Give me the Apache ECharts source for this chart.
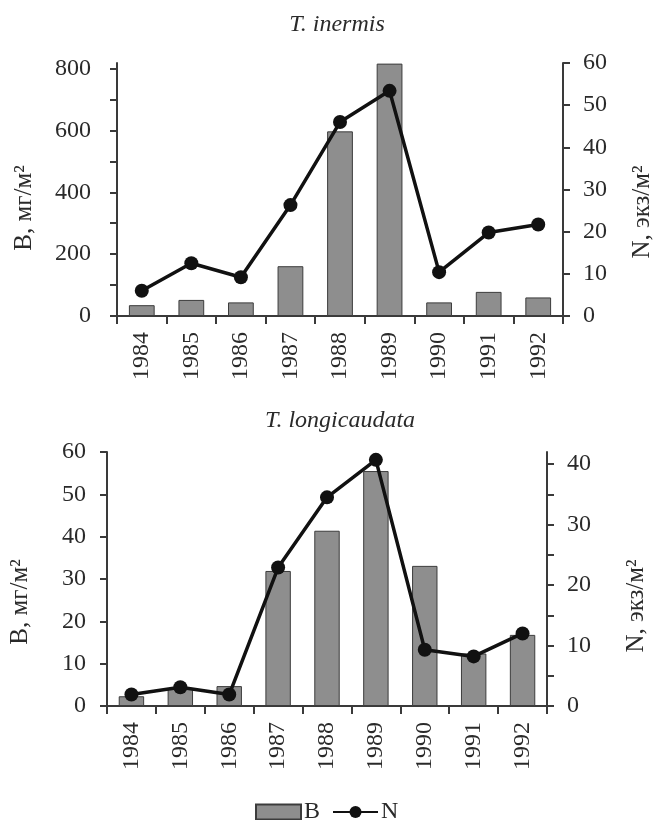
<!DOCTYPE html>
<html>
<head>
<meta charset="utf-8">
<script src="https://cdn.jsdelivr.net/npm/echarts@6/dist/echarts.min.js"></script>
<style>
  html, body { margin: 0; padding: 0; background: #fff; }
  #chart { width: 656px; height: 820px; }
</style>
</head>
<body>
<div id="chart"></div>
<script>
// Years of observation
const years = ['1984', '1985', '1986', '1987', '1988', '1989', '1990', '1991', '1992'];

// T. inermis: biomass B (mg/m2) and abundance N (ind./m2)
const inermisB = [35, 52, 44, 161, 597, 816, 44, 78, 60];
const inermisN = [6.0, 12.5, 9.2, 26.3, 46.0, 53.4, 10.4, 19.8, 21.7];

// T. longicaudata: biomass B (mg/m2) and abundance N (ind./m2)
const longiB = [2.3, 4.1, 4.7, 31.9, 41.4, 55.5, 33.1, 12.4, 16.8];
const longiN = [1.9, 3.1, 1.9, 22.9, 34.5, 40.7, 9.3, 8.2, 12.0];

// Tick positions and labelled ticks for each value axis
const inermisBTicks = [0, 100, 200, 300, 400, 500, 600, 700, 800];
const inermisBLabels = [0, 200, 400, 600, 800];
const inermisNTicks = [0, 10, 20, 30, 40, 50, 60];
const longiBTicks = [0, 10, 20, 30, 40, 50, 60];
const longiNTicks = [0, 5, 10, 15, 20, 25, 30, 35, 40];
const longiNLabels = [0, 10, 20, 30, 40];

// Axis titles
const nameB = 'B, мг/м²';
const nameN = 'N, экз/м²';

const FONT = '"Liberation Serif", "DejaVu Serif", serif';
const TEXT = '#2a2a2a';
const AXIS = '#3a3a3a';

function valueAxis(gridIndex, pos, max, ticks, labels, labelMargin) {
  return {
    type: 'value',
    gridIndex: gridIndex,
    position: pos,
    min: 0,
    max: max,
    splitLine: { show: false },
    axisLine: { show: true, lineStyle: { color: AXIS, width: 2 } },
    axisTick: { show: true, length: 7, customValues: ticks, lineStyle: { color: AXIS, width: 2 } },
    axisLabel: {
      customValues: labels,
      margin: labelMargin,
      fontFamily: FONT, fontSize: 24, color: TEXT
    }
  };
}

function catAxis(gridIndex) {
  return {
    type: 'category',
    gridIndex: gridIndex,
    data: years,
    boundaryGap: true,
    axisLine: { lineStyle: { color: AXIS, width: 2 } },
    axisTick: { show: true, length: 8, lineStyle: { color: AXIS, width: 2 } },
    axisLabel: {
      interval: 0, rotate: 90, margin: 16,
      fontFamily: FONT, fontSize: 24, color: TEXT
    }
  };
}

// Vertical axis title, read from bottom to top
function axisTitle(text, x, y) {
  return {
    type: 'text',
    x: x, y: y,
    rotation: Math.PI / 2,
    style: {
      text: text,
      font: '25px ' + FONT,
      fill: TEXT,
      align: 'center',
      verticalAlign: 'middle'
    }
  };
}

const barStyle = { color: '#8e8e8e', borderColor: '#3c3c3c', borderWidth: 1 };
const lineStyle = { color: '#111111', width: 3.5 };

const option = {
  animation: false,
  backgroundColor: '#ffffff',
  title: [
    {
      text: 'T. inermis', left: 332, top: 8, textAlign: 'center',
      textStyle: { fontFamily: FONT, fontStyle: 'italic', fontWeight: 'normal', fontSize: 24, color: TEXT }
    },
    {
      text: 'T. longicaudata', left: 335, top: 404, textAlign: 'center',
      textStyle: { fontFamily: FONT, fontStyle: 'italic', fontWeight: 'normal', fontSize: 24, color: TEXT }
    }
  ],
  legend: {
    top: 795, left: 250,
    itemWidth: 45, itemHeight: 15, itemGap: 12,
    textStyle: { fontFamily: FONT, fontSize: 24, color: TEXT, padding: [0, 0, 0, -2] },
    data: [
      { name: 'B', icon: 'rect' },
      { name: 'N' }
    ]
  },
  graphic: [
    axisTitle(nameB, 24, 208),
    axisTitle(nameN, 642, 212),
    axisTitle(nameB, 20, 602),
    axisTitle(nameN, 636, 606)
  ],
  grid: [
    { left: 117, right: 93, top: 63, height: 253 },
    { left: 107, right: 109, top: 452, height: 254 }
  ],
  xAxis: [catAxis(0), catAxis(1)],
  yAxis: [
    valueAxis(0, 'left', 818, inermisBTicks, inermisBLabels, 26),
    valueAxis(0, 'right', 60, inermisNTicks, inermisNTicks, 20),
    valueAxis(1, 'left', 60, longiBTicks, longiBTicks, 21),
    valueAxis(1, 'right', 42, longiNTicks, longiNLabels, 20)
  ],
  series: [
    {
      name: 'B', type: 'bar', xAxisIndex: 0, yAxisIndex: 0,
      data: inermisB, barWidth: '52%', itemStyle: barStyle
    },
    {
      name: 'N', type: 'line', xAxisIndex: 0, yAxisIndex: 1,
      data: inermisN, symbol: 'circle', symbolSize: 14,
      lineStyle: lineStyle, itemStyle: { color: '#111111' }
    },
    {
      name: 'B', type: 'bar', xAxisIndex: 1, yAxisIndex: 2,
      data: longiB, barWidth: '52%', itemStyle: barStyle
    },
    {
      name: 'N', type: 'line', xAxisIndex: 1, yAxisIndex: 3,
      data: longiN, symbol: 'circle', symbolSize: 14,
      lineStyle: lineStyle, itemStyle: { color: '#111111' }
    }
  ]
};

const chart = echarts.init(document.getElementById('chart'), null, { renderer: 'canvas' });
chart.setOption(option);
</script>
</body>
</html>
